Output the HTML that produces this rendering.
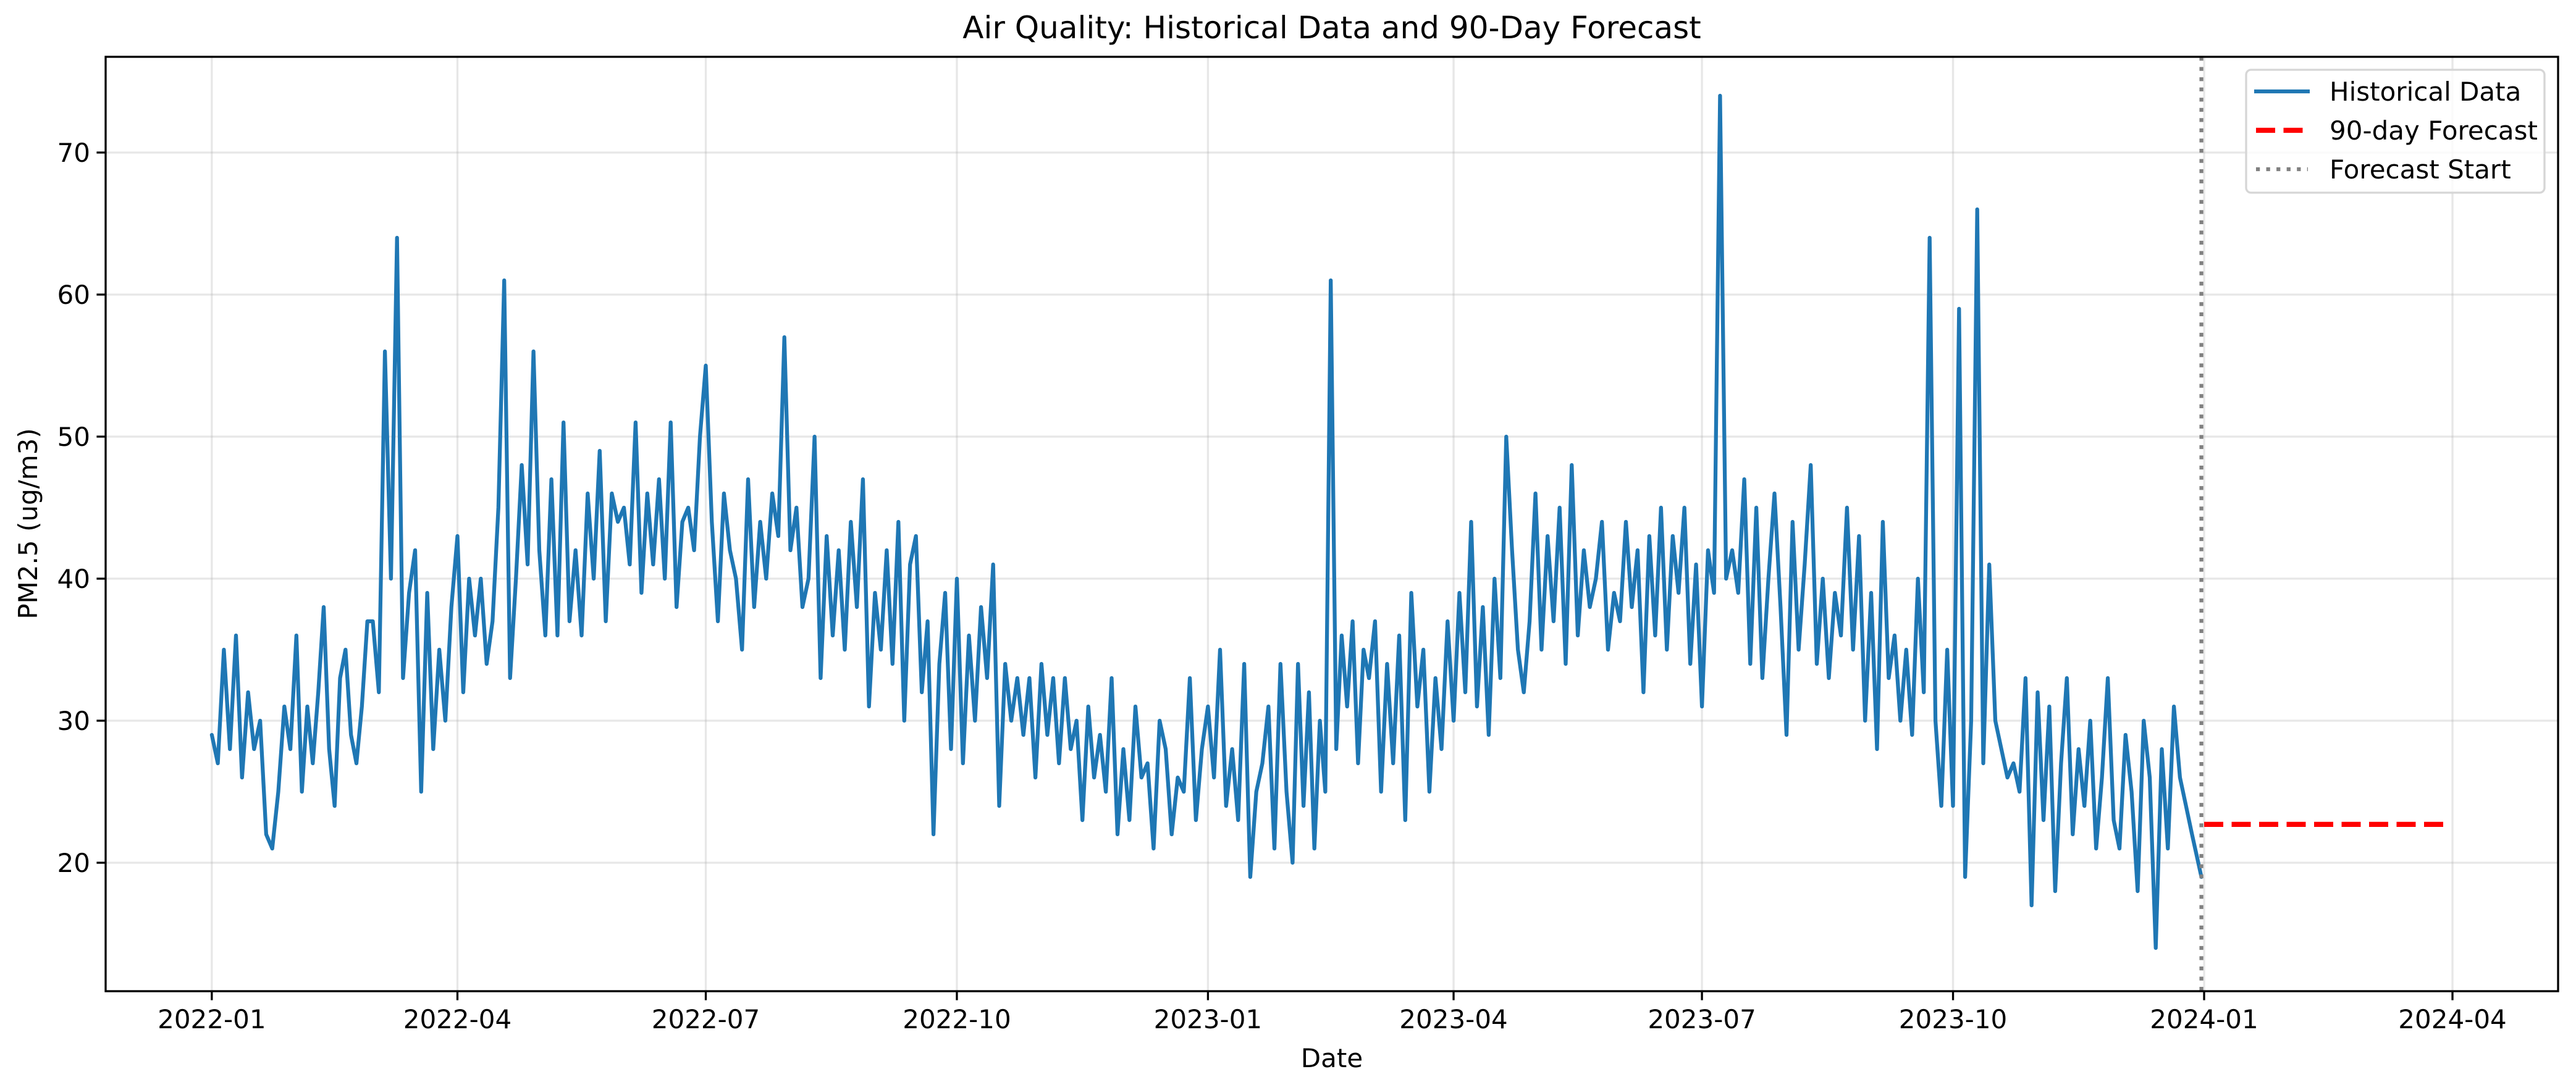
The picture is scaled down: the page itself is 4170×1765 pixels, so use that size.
<!DOCTYPE html>
<html><head><meta charset="utf-8"><style>
html,body{margin:0;padding:0;background:#fff;}
svg{display:block;font-family:"DejaVu Sans","Liberation Sans",sans-serif;}
</style></head><body>
<svg id="chart" width="4170" height="1765" viewBox="0 0 4170 1765" xmlns="http://www.w3.org/2000/svg">
<rect width="4170" height="1765" fill="#fff"/>
<g id="grid"></g>
<g id="series"></g>
<rect x="171" y="92" width="3970" height="1513" fill="none" stroke="#000" stroke-width="3.3"/>
<g id="ticks"></g>
<text x="2156" y="62" font-size="50" text-anchor="middle">Air Quality: Historical Data and 90-Day Forecast</text>
<text x="2156" y="1728" font-size="42" text-anchor="middle">Date</text>
<text x="0" y="0" font-size="42" text-anchor="middle" transform="translate(60,848) rotate(-90)">PM2.5 (ug/m3)</text>
<g>
<rect x="3636" y="113" width="483" height="199" rx="8" fill="#fff" fill-opacity="0.8" stroke="#d6d6d6" stroke-width="3.3"/>
<line x1="3649" y1="148" x2="3739" y2="148" stroke="#1f77b4" stroke-width="6.25"/>
<text x="3771" y="163" font-size="42">Historical Data</text>
<line x1="3652" y1="211" x2="3728" y2="211" stroke="#ff0000" stroke-width="8.3" stroke-dasharray="31,13.5"/>
<text x="3771" y="226" font-size="42">90-day Forecast</text>
<line x1="3652" y1="274" x2="3736" y2="274" stroke="#808080" stroke-width="6.25" stroke-dasharray="6.25,10.3"/>
<text x="3771" y="289" font-size="42">Forecast Start</text>
</g>
</svg>
<script>
const histMonths = ["2022-01","2022-02","2022-03","2022-04","2022-05","2022-06","2022-07","2022-08","2022-09","2022-10","2022-11","2022-12",
"2023-01","2023-02","2023-03","2023-04","2023-05","2023-06","2023-07","2023-08","2023-09","2023-10","2023-11","2023-12"];
const histValues = [
[29,27,35,28,36,26,32,28,30,22,21,25,31,28],
[36,25,31,27,32,38,28,24,33,35,29,27,31,37],
[37,32,56,40,64,33,39,42,25,39,28,35,30,38],
[43,32,40,36,40,34,37,45,61,33,40,48,41,56],
[42,36,47,36,51,37,42,36,46,40,49,37,46,44],
[45,41,51,39,46,41,47,40,51,38,44,45,42,50],
[55,44,37,46,42,40,35,47,38,44,40,46,43,57],
[42,45,38,40,50,33,43,36,42,35,44,38,47,31],
[39,35,42,34,44,30,41,43,32,37,22,34,39,28],
[40,27,36,30,38,33,41,24,34,30,33,29,33,26],
[34,29,33,27,33,28,30,23,31,26,29,25,33,22],
[28,23,31,26,27,21,30,28,22,26,25,33,23,28],
[31,26,35,24,28,23,34,19,25,27,31,21,34,25],
[20,34,24,32,21,30,25,61,28,36,31,37,27,35],
[33,37,25,34,27,36,23,39,31,35,25,33,28,37],
[30,39,32,44,31,38,29,40,33,50,42,35,32,37],
[46,35,43,37,45,34,48,36,42,38,40,44,35,39],
[37,44,38,42,32,43,36,45,35,43,39,45,34,41],
[31,42,39,74,40,42,39,47,34,45,33,40,46,38],
[29,44,35,41,48,34,40,33,39,36,45,35,43,30],
[39,28,44,33,36,30,35,29,40,32,64,30,24,35],
[24,59,19,30,66,27,41,30,28,26,27,25,33,17],
[32,23,31,18,27,33,22,28,24,30,21,26,33,23],
[21,29,25,18,30,26,14,28,21,31,26,24,22,19]
];
const histEnd = "2023-12-31";
const forecastStart = "2024-01-01";
const forecastEnd = "2024-03-30";
const forecastValue = [22.7];
const xTickLabels = ["2022-01","2022-04","2022-07","2022-10","2023-01","2023-04","2023-07","2023-10","2024-01","2024-04"];
const yTickValues = [20,30,40,50,60,70];

const NS="http://www.w3.org/2000/svg";
const X0=171,X1=4141,Y0=92,Y1=1605;
const DAY=86400000;
const ref=Date.UTC(2024,0,1);
function dateMs(s){const p=s.split("-").map(Number);return Date.UTC(p[0],p[1]-1,p[2]||1);}
function xScale(ms){return 3568+(ms-ref)/DAY*4.418;}
function yScale(v){return 1857-23*v;}
function mk(tag,attrs,parent){const e=document.createElementNS(NS,tag);for(const k in attrs)e.setAttribute(k,attrs[k]);parent.appendChild(e);return e;}
const grid=document.getElementById('grid'),ticks=document.getElementById('ticks'),series=document.getElementById('series');

xTickLabels.forEach(l=>{
  const x=xScale(dateMs(l));
  const g=mk('line',{x1:x,x2:x,y1:Y0,y2:Y1,stroke:'#b0b0b0','stroke-opacity':0.3,'stroke-width':3.3},grid);
  
  
  const t=mk('line',{x1:x,x2:x,y1:Y1,y2:Y1+14.6,stroke:'#000','stroke-width':3.3},ticks);
  
  
  const tx=mk('text',{x:x,y:1665,'font-size':42,'text-anchor':'middle'},ticks);
  tx.textContent=l;
  
  
});
yTickValues.forEach(v=>{
  const y=yScale(v);
  const g=mk('line',{x1:X0,x2:X1,y1:y,y2:y,stroke:'#b0b0b0','stroke-opacity':0.3,'stroke-width':3.3},grid);
  
  
  const t=mk('line',{x1:X0-14.6,x2:X0,y1:y,y2:y,stroke:'#000','stroke-width':3.3},ticks);
  
  
  const tx=mk('text',{x:X0-25,y:y+15,'font-size':42,'text-anchor':'end'},ticks);
  tx.textContent=v;
  
  
});

const pts=[];
histMonths.forEach((m,mi)=>{
  const start=dateMs(m);
  const next=mi+1<histMonths.length?dateMs(histMonths[mi+1]):dateMs(histEnd)+DAY;
  const vals=histValues[mi];
  vals.forEach((v,j)=>{
    let ms=start+(next-start)*j/vals.length;
    if(mi===histMonths.length-1&&j===vals.length-1) ms=dateMs(histEnd);
    pts.push(xScale(ms).toFixed(1)+","+yScale(v).toFixed(1));
  });
});
const hl=mk('polyline',{points:pts.join(" "),fill:'none',stroke:'#1f77b4','stroke-width':6.25,'stroke-linejoin':'round','stroke-linecap':'round'},series);



const fy=yScale(forecastValue[0]);
const fl=mk('line',{x1:xScale(dateMs(forecastStart)),x2:xScale(dateMs(forecastEnd)),y1:fy,y2:fy,stroke:'#ff0000','stroke-width':8.3,'stroke-dasharray':'31,13.5'},series);



const vx=xScale(dateMs(histEnd));
const vl=mk('line',{x1:vx,x2:vx,y1:Y0,y2:Y1,stroke:'#808080','stroke-width':6.25,'stroke-dasharray':'6.25,10.3'},series);


</script>
</body></html>
